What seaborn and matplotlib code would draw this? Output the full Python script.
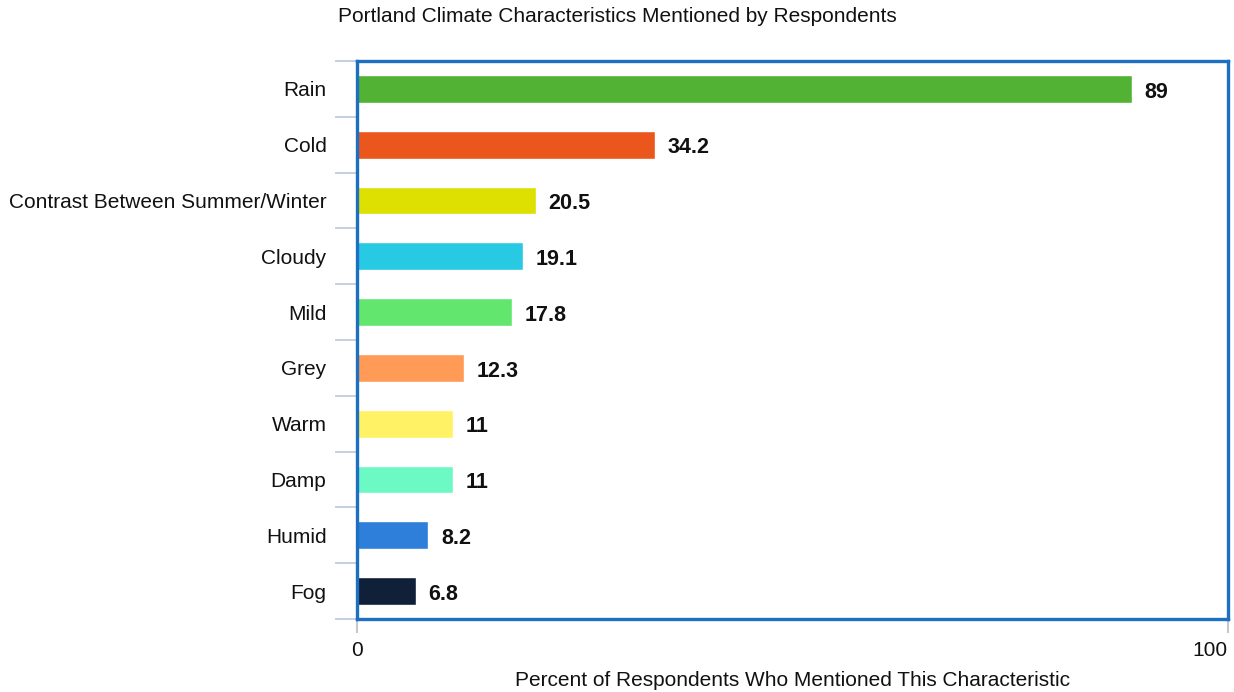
import matplotlib
matplotlib.use("Agg")
import matplotlib.pyplot as plt
import seaborn as sns
import pandas as pd
import numpy as np
from matplotlib.ticker import FixedLocator

categories = ["Rain", "Cold", "Contrast Between Summer/Winter", "Cloudy", "Mild",
              "Grey", "Warm", "Damp", "Humid", "Fog"]
values = [89, 34.2, 20.5, 19.1, 17.8, 12.3, 11, 11, 8.2, 6.8]
colors = ["#52b234", "#ea561c", "#dde000", "#27c9e3", "#63e66e",
          "#ff9a57", "#fff264", "#6cf9c4", "#2e7fd9", "#0f2038"]
x_ticks = [0, 100]

sns.set_theme(style="white")
plt.rcParams["font.family"] = ["Liberation Sans", "DejaVu Sans"]

df = pd.DataFrame({"category": categories, "value": values})

fig = plt.figure(figsize=(12.34, 6.92), dpi=100)
ax = fig.add_axes([357 / 1234, 1 - 619 / 692, (1228 - 357) / 1234, (619 - 61) / 692])

sns.barplot(data=df, y="category", x="value", hue="category", palette=colors,
            orient="h", width=0.5, legend=False, ax=ax, saturation=1)

ax.set_xlim(0, 100)
ax.set_ylim(len(categories) - 0.5, -0.5)

# value labels
for i, v in enumerate(values):
    ax.annotate(f"{v:g}", xy=(v, i), xytext=(9, -0.5), textcoords="offset points",
                ha="left", va="center_baseline", fontsize=15.5, fontweight="bold",
                color="#111111")

# frame
for s in ax.spines.values():
    s.set_visible(True)
    s.set_color("#1c6fc1")
    s.set_linewidth(2.4)

# y ticks: labels at centers, marks at band boundaries
ax.set_yticks(range(len(categories)))
ax.set_yticklabels(categories, va="center_baseline")
ax.yaxis.set_minor_locator(FixedLocator(np.arange(-0.5, len(categories), 1.0)))
ax.tick_params(axis="y", which="major", length=0, pad=22, labelsize=15, labelcolor="#111111")
ax.tick_params(axis="y", which="minor", length=16, width=1.2, color="#b8c8dc", left=True)

# x ticks
ax.set_xticks(x_ticks)
ax.set_xticklabels([str(t) for t in x_ticks])
ax.tick_params(axis="x", which="major", length=10, width=1.5, color="#c8c8c8",
               bottom=True, pad=6, labelsize=15, labelcolor="#111111")
labels = ax.get_xticklabels()
labels[-1].set_ha("right")

ax.set_ylabel("")
ax.set_xlabel("Percent of Respondents Who Mentioned This Characteristic",
              fontsize=15, color="#111111", va="center")
ax.xaxis.set_label_coords(0.5, -62 / 558)

fig.suptitle("Portland Climate Characteristics Mentioned by Respondents",
             x=0.5, y=1 - 17 / 692, va="center", fontsize=15, color="#111111")

fig.savefig("out.png", dpi=100, facecolor="white")
